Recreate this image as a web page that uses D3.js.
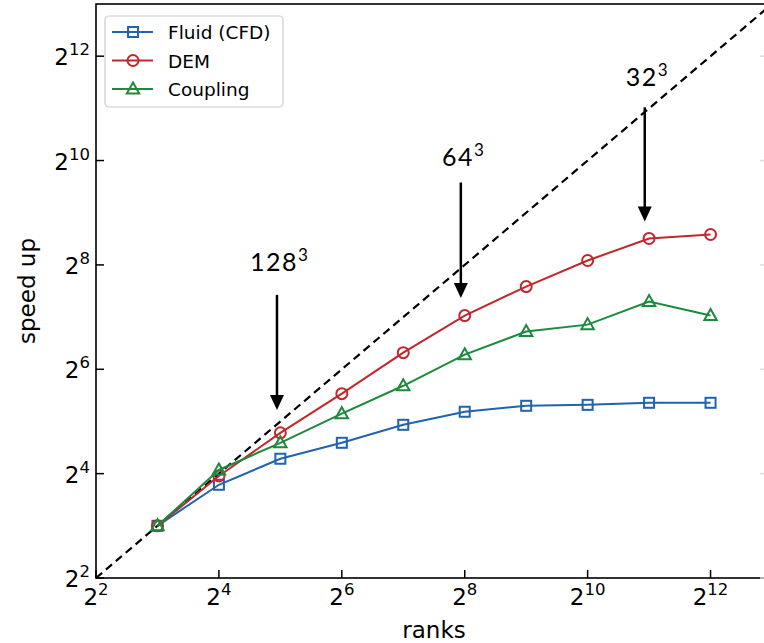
<!DOCTYPE html>
<html>
<head>
<meta charset="utf-8">
<script src="https://cdn.jsdelivr.net/npm/d3@7"></script>
<style>
  html, body { margin: 0; padding: 0; background: #fff; }
  svg { display: block; }
  text { font-family: "DejaVu Sans", sans-serif; fill: #000; }
  .anno { font-family: Lato, "Open Sans", sans-serif; font-weight: 400; }
</style>
</head>
<body>
<svg id="chart" width="764" height="643"></svg>
<script>
const ranks = [8, 16, 32, 64, 128, 256, 512, 1024, 2048, 4096];
const fluid = [8, 13.8, 19.5, 24.1, 30.6, 36.4, 39.4, 39.9, 41.0, 41.0];
const dem = [8, 15.5, 27.5, 46.3, 79.8, 130.6, 192, 271.5, 363.8, 383.5];
const coupling = [8, 16.8, 24.1, 35.5, 51.4, 77.7, 105.6, 115.8, 157.4, 130.6];

const seriesNames = ["Fluid (CFD)", "DEM", "Coupling"];
const seriesColors = ["#2163ad", "#c1272d", "#1c8a3c"];
const seriesMarkers = ["square", "circle", "triangle"];

const tickExps = [2, 4, 6, 8, 10, 12];

// grid size annotations: [label, x (rank), arrow top, arrow tip, text baseline] in data units
const annoLabel = ["128", "64", "32"];
const annoX = [30.8, 245, 1950];
const annoTop = [172, 765, 2075];
const annoTip = [37.3, 165, 455];
const annoText = [237, 950, 2740];

const dims = {
  svgWidth: 764,
  svgHeight: 643,
  margin: {top: 4, left: 96, bottom: 65, right: -8}
};
dims.width = dims.svgWidth - dims.margin.left - dims.margin.right;
dims.height = dims.svgHeight - dims.margin.top - dims.margin.bottom;

const svg = d3.select("#chart");

const x = d3.scaleLog().base(2)
  .domain([4, 8192])
  .range([dims.margin.left, dims.margin.left + dims.width]);
const y = d3.scaleLog().base(2)
  .domain([4, 8192])
  .range([dims.margin.top + dims.height, dims.margin.top]);

const x0 = x.range()[0], x1 = x.range()[1];
const y0 = y.range()[0], y1 = y.range()[1];

// ideal speed up
svg.append("line")
  .attr("x1", x(4)).attr("y1", y(4))
  .attr("x2", x(8192)).attr("y2", y(8192))
  .attr("stroke", "#000")
  .attr("stroke-width", 2.2)
  .attr("stroke-dasharray", "8,5");

// series
const allSeries = [fluid, dem, coupling];
const line = d3.line()
  .x(d => x(d[0]))
  .y(d => y(d[1]));

function drawMarker(g, kind, color) {
  if (kind === "square") {
    g.append("rect").attr("x", -5).attr("y", -5).attr("width", 10).attr("height", 10)
      .attr("fill", "none").attr("stroke", color).attr("stroke-width", 2);
  } else if (kind === "circle") {
    g.append("circle").attr("r", 5.5)
      .attr("fill", "none").attr("stroke", color).attr("stroke-width", 2);
  } else {
    g.append("path").attr("d", "M0,-6.5L6.2,4.5L-6.2,4.5Z")
      .attr("fill", "none").attr("stroke", color).attr("stroke-width", 2);
  }
}

allSeries.forEach((vals, i) => {
  const pts = ranks.map((r, j) => [r, vals[j]]);
  const g = svg.append("g");
  g.append("path")
    .attr("d", line(pts))
    .attr("fill", "none")
    .attr("stroke", seriesColors[i])
    .attr("stroke-width", 2);
  g.selectAll("g.pt")
    .data(pts)
    .join("g")
    .attr("class", "pt")
    .attr("transform", d => `translate(${x(d[0])},${y(d[1])})`)
    .each(function () { drawMarker(d3.select(this), seriesMarkers[i], seriesColors[i]); });
});

// spines
svg.append("rect")
  .attr("x", x0).attr("y", y1)
  .attr("width", x1 - x0).attr("height", y0 - y1)
  .attr("fill", "none")
  .attr("stroke", "#000")
  .attr("stroke-width", 1.6);

// ticks (inward) and labels
const tickVals = tickExps.map(e => Math.pow(2, e));
svg.selectAll("line.xt")
  .data(tickVals)
  .join("line")
  .attr("class", "xt")
  .attr("x1", d => x(d)).attr("x2", d => x(d))
  .attr("y1", y0).attr("y2", y0 - 8)
  .attr("stroke", "#000").attr("stroke-width", 1.5);
svg.selectAll("line.yt")
  .data(tickVals)
  .join("line")
  .attr("class", "yt")
  .attr("y1", d => y(d)).attr("y2", d => y(d))
  .attr("x1", x0).attr("x2", x0 + 8)
  .attr("stroke", "#000").attr("stroke-width", 1.5);
svg.selectAll("line.yr")
  .data(tickVals)
  .join("line")
  .attr("class", "yr")
  .attr("y1", d => y(d)).attr("y2", d => y(d))
  .attr("x1", 760).attr("x2", 764)
  .attr("stroke", "#ddd").attr("stroke-width", 1.5);

const xl = svg.selectAll("text.xl")
  .data(tickExps)
  .join("text")
  .attr("class", "xl")
  .attr("x", d => x(Math.pow(2, d)))
  .attr("y", y0 + 27)
  .attr("text-anchor", "middle")
  .style("font-size", "23px");
xl.append("tspan").text("2");
xl.append("tspan").attr("dy", -10).style("font-size", "16.5px").text(d => d);

const yl = svg.selectAll("text.yl")
  .data(tickExps)
  .join("text")
  .attr("class", "yl")
  .attr("x", x0 - 6)
  .attr("y", d => y(Math.pow(2, d)) + 9)
  .attr("text-anchor", "end")
  .style("font-size", "23px");
yl.append("tspan").text("2");
yl.append("tspan").attr("dy", -10).style("font-size", "16.5px").text(d => d);

// axis titles
svg.append("text")
  .attr("x", (x0 + x1) / 2)
  .attr("y", 638)
  .attr("text-anchor", "middle")
  .style("font-size", "23px")
  .text("ranks");
svg.append("text")
  .attr("transform", `translate(35,${(y0 + y1) / 2}) rotate(-90)`)
  .attr("text-anchor", "middle")
  .style("font-size", "23px")
  .text("speed up");

// annotations
annoLabel.forEach((lab, i) => {
  const ax = x(annoX[i]);
  const t = svg.append("text")
    .attr("class", "anno")
    .attr("x", ax + 2)
    .attr("y", y(annoText[i]))
    .attr("text-anchor", "middle")
    .style("font-size", "25px");
  t.append("tspan").style("letter-spacing", "1.5px").text(lab);
  t.append("tspan").attr("dy", -10).style("font-size", "17px").text("3");
  const yt = y(annoTop[i]), yb = y(annoTip[i]);
  svg.append("line")
    .attr("x1", ax).attr("x2", ax)
    .attr("y1", yt).attr("y2", yb - 12)
    .attr("stroke", "#000").attr("stroke-width", 2.5);
  svg.append("path")
    .attr("d", `M${ax - 7},${yb - 15}L${ax + 7},${yb - 15}L${ax},${yb}Z`)
    .attr("fill", "#000");
});

// legend
const leg = svg.append("g").attr("transform", "translate(105,16)");
leg.append("rect")
  .attr("width", 178).attr("height", 91)
  .attr("rx", 4)
  .attr("fill", "#fff").attr("fill-opacity", 0.8)
  .attr("stroke", "#ccc").attr("stroke-width", 1.2);
seriesNames.forEach((name, i) => {
  const gy = 16 + i * 28.5;
  const g = leg.append("g").attr("transform", `translate(0,${gy})`);
  g.append("line")
    .attr("x1", 7).attr("x2", 48)
    .attr("stroke", seriesColors[i]).attr("stroke-width", 2);
  const m = g.append("g").attr("transform", "translate(28,0)");
  drawMarker(m, seriesMarkers[i], seriesColors[i]);
  g.append("text")
    .attr("x", 63).attr("y", 7)
    .style("font-size", "18.5px")
    .text(name);
});
</script>
</body>
</html>
